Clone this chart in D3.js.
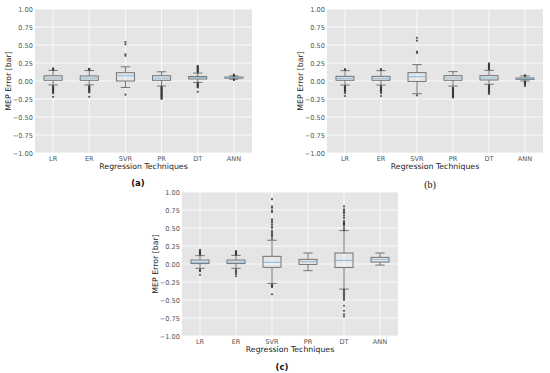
<!DOCTYPE html>
<html>
<head>
<meta charset="utf-8">
<script src="https://cdn.jsdelivr.net/npm/d3@7"></script>
<style>
  body { margin: 0; background: #fff; }
  svg text { font-family: "DejaVu Sans", sans-serif; }
</style>
</head>
<body>
<div id="chart"></div>
<script>
// MEP error box plots for six regression techniques, three panels
const techniques = ['LR', 'ER', 'SVR', 'PR', 'DT', 'ANN'];
const yTicks = [-1, -0.75, -0.5, -0.25, 0, 0.25, 0.5, 0.75, 1];
const panelLabels = ['(a)', '(b)', '(c)'];

// panel (a)
const aQ1 = [0.01, 0.01, 0.0, 0.01, 0.028, 0.04];
const aMed = [0.04, 0.04, 0.073, 0.04, 0.046, 0.048];
const aQ3 = [0.072, 0.07, 0.115, 0.073, 0.064, 0.055];
const aLow = [-0.055, -0.055, -0.09, -0.07, -0.02, 0.025];
const aHigh = [0.147, 0.145, 0.197, 0.128, 0.11, 0.07];
const aOut = [
  [0.155, 0.165, 0.175, -0.07, -0.08, -0.09, -0.1, -0.11, -0.12, -0.13, -0.14, -0.15, -0.16, -0.17, -0.22],
  [0.155, 0.165, 0.17, -0.07, -0.08, -0.09, -0.1, -0.11, -0.12, -0.13, -0.14, -0.15, -0.16, -0.22],
  [0.54, 0.51, 0.37, 0.35, -0.19],
  [-0.08, -0.09, -0.1, -0.11, -0.12, -0.13, -0.14, -0.15, -0.16, -0.17, -0.18, -0.19, -0.2, -0.21, -0.22, -0.23, -0.24, -0.25],
  [0.12, 0.13, 0.14, 0.15, 0.16, 0.17, 0.18, 0.19, 0.2, 0.21, -0.03, -0.04, -0.05, -0.06, -0.07, -0.08, -0.09, -0.15],
  [0.075, 0.08, 0.09, 0.02, 0.015]
];

// panel (b)
const bQ1 = [0.01, 0.01, -0.005, 0.01, 0.014, 0.023];
const bMed = [0.037, 0.037, 0.06, 0.042, 0.042, 0.033];
const bQ3 = [0.065, 0.065, 0.116, 0.074, 0.074, 0.042];
const bLow = [-0.056, -0.056, -0.176, -0.07, -0.046, 0.0];
const bHigh = [0.144, 0.144, 0.227, 0.13, 0.148, 0.07];
const bOut = [
  [0.155, 0.165, -0.07, -0.08, -0.09, -0.1, -0.11, -0.12, -0.13, -0.14, -0.15, -0.17, -0.21],
  [0.155, 0.165, -0.07, -0.08, -0.09, -0.1, -0.11, -0.12, -0.13, -0.14, -0.15, -0.17, -0.21],
  [0.6, 0.56, 0.41, 0.39, -0.2],
  [-0.09, -0.1, -0.11, -0.12, -0.13, -0.14, -0.15, -0.16, -0.17, -0.18, -0.19, -0.2, -0.21, -0.22, -0.23],
  [0.16, 0.17, 0.18, 0.19, 0.2, 0.21, 0.22, 0.23, 0.245, -0.06, -0.07, -0.08, -0.09, -0.1, -0.11, -0.12, -0.13, -0.14, -0.15, -0.16, -0.18],
  [0.075, 0.08, -0.01, -0.02, -0.03, -0.04, -0.05, -0.07]
];

// panel (c)
const cQ1 = [0.005, 0.005, -0.046, -0.005, -0.05, 0.028];
const cMed = [0.022, 0.025, 0.023, 0.032, 0.05, 0.065];
const cQ3 = [0.055, 0.055, 0.107, 0.065, 0.153, 0.093];
const cLow = [-0.06, -0.06, -0.27, -0.093, -0.348, -0.015];
const cHigh = [0.116, 0.12, 0.33, 0.153, 0.464, 0.153];
const cOut = [
  [0.13, 0.14, 0.15, 0.16, 0.17, 0.18, 0.195, -0.08, -0.09, -0.1, -0.15],
  [0.13, 0.14, 0.15, 0.16, 0.17, 0.18, -0.08, -0.1, -0.12, -0.14, -0.17],
  [0.35, 0.38, 0.4, 0.42, 0.44, 0.46, 0.5, 0.52, 0.55, 0.58, 0.6, 0.62, 0.72, 0.74, 0.78, 0.8, 0.9, -0.29, -0.3, -0.31, -0.32, -0.42],
  [],
  [0.47, 0.5, 0.53, 0.55, 0.56, 0.57, 0.58, 0.6, 0.64, 0.67, 0.7, 0.72, 0.74, 0.76, 0.8, -0.36, -0.38, -0.4, -0.42, -0.44, -0.46, -0.48, -0.5, -0.58, -0.65, -0.7, -0.73],
  []
];

const width = 550;
const height = 373;

const svg = d3.select('#chart').append('svg')
  .attr('width', width)
  .attr('height', height);

const panels = [
  { frame: { left: 35, right: 252, top: 9, bottom: 153 }, cap: { x: 138, y: 183, serif: false },
    q1: aQ1, med: aMed, q3: aQ3, low: aLow, high: aHigh, out: aOut },
  { frame: { left: 327, right: 543, top: 9, bottom: 153 }, cap: { x: 430, y: 184, serif: true },
    q1: bQ1, med: bMed, q3: bQ3, low: bLow, high: bHigh, out: bOut },
  { frame: { left: 182, right: 398, top: 192, bottom: 336 }, cap: { x: 282, y: 367, serif: false },
    q1: cQ1, med: cMed, q3: cQ3, low: cLow, high: cHigh, out: cOut }
];

panels.forEach((p, pi) => {
  const f = p.frame;
  const g = svg.append('g');

  const x = d3.scaleBand().domain(techniques).range([f.left, f.right]).padding(0);
  const y = d3.scaleLinear().domain([-1, 1]).range([f.bottom, f.top]);
  const bw = x.bandwidth();
  const cx = d => x(d) + bw / 2;

  // background
  g.append('rect')
    .attr('x', f.left).attr('y', f.top)
    .attr('width', f.right - f.left).attr('height', f.bottom - f.top)
    .attr('fill', '#e5e5e5');

  // grid
  g.selectAll('.hgrid').data(yTicks).enter().append('line')
    .attr('x1', f.left).attr('x2', f.right)
    .attr('y1', d => y(d)).attr('y2', d => y(d))
    .attr('stroke', '#fff').attr('stroke-width', 0.8);
  g.selectAll('.vgrid').data(techniques).enter().append('line')
    .attr('x1', cx).attr('x2', cx)
    .attr('y1', f.top).attr('y2', f.bottom)
    .attr('stroke', '#fff').attr('stroke-width', 0.8);

  // axes
  const yAxis = g.append('g')
    .attr('transform', `translate(${f.left},0)`)
    .call(d3.axisLeft(y).tickValues(yTicks).tickFormat(d3.format('.2f')).tickSize(0).tickPadding(2));
  const xAxis = g.append('g')
    .attr('transform', `translate(0,${f.bottom})`)
    .call(d3.axisBottom(x).tickSize(0).tickPadding(3));
  [xAxis, yAxis].forEach(a => {
    a.select('.domain').remove();
    a.selectAll('text').attr('fill', '#555').style('font-size', '6.6px');
  });

  // whiskers, caps, boxes, medians, fliers
  techniques.forEach((t, i) => {
    const c = cx(t);
    const bx = g.append('g');
    bx.append('line')
      .attr('x1', c).attr('x2', c).attr('y1', y(p.q3[i])).attr('y2', y(p.high[i]))
      .attr('stroke', '#666').attr('stroke-width', 0.9);
    bx.append('line')
      .attr('x1', c).attr('x2', c).attr('y1', y(p.q1[i])).attr('y2', y(p.low[i]))
      .attr('stroke', '#666').attr('stroke-width', 0.9);
    [p.high[i], p.low[i]].forEach(v => {
      bx.append('line')
        .attr('x1', c - bw * 0.13).attr('x2', c + bw * 0.13)
        .attr('y1', y(v)).attr('y2', y(v))
        .attr('stroke', '#666').attr('stroke-width', 0.9);
    });
    bx.append('rect')
      .attr('x', c - bw * 0.25).attr('width', bw * 0.5)
      .attr('y', y(p.q3[i])).attr('height', Math.max(0.5, y(p.q1[i]) - y(p.q3[i])))
      .attr('fill', 'none').attr('stroke', '#666').attr('stroke-width', 0.9);
    bx.append('line')
      .attr('x1', c - bw * 0.25).attr('x2', c + bw * 0.25)
      .attr('y1', y(p.med[i])).attr('y2', y(p.med[i]))
      .attr('stroke', '#7eb4dc').attr('stroke-width', 0.9);
    bx.selectAll('circle').data(p.out[i]).enter().append('circle')
      .attr('cx', c).attr('cy', d => y(d)).attr('r', 1.1)
      .attr('fill', '#333').attr('opacity', 0.8);
  });

  // axis titles
  g.append('text')
    .attr('transform', `translate(${f.left - 27},${(f.top + f.bottom) / 2}) rotate(-90)`)
    .attr('text-anchor', 'middle').attr('dy', '0.35em')
    .style('font-size', '7.8px').attr('fill', '#1a1a1a')
    .text('MEP Error [bar]');
  g.append('text')
    .attr('x', (f.left + f.right) / 2).attr('y', f.bottom + 13)
    .attr('text-anchor', 'middle').attr('dy', '0.35em')
    .style('font-size', '7.8px').attr('fill', '#1a1a1a')
    .text('Regression Techniques');

  // caption
  g.append('text')
    .attr('x', p.cap.x).attr('y', p.cap.y)
    .attr('text-anchor', 'middle').attr('dy', '0.35em')
    .style('font-family', p.cap.serif ? '"Liberation Serif", serif' : '"DejaVu Sans", sans-serif')
    .style('font-weight', p.cap.serif ? 'normal' : 'bold')
    .style('font-size', p.cap.serif ? '10px' : '8.5px').attr('fill', '#111')
    .text(panelLabels[pi]);
});
</script>
</body>
</html>
